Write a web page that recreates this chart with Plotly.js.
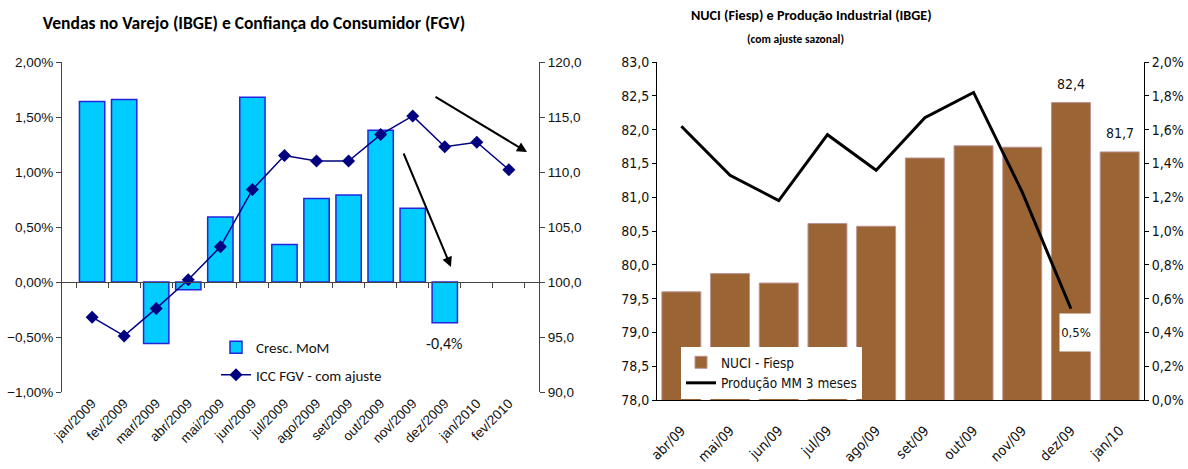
<!DOCTYPE html>
<html>
<head>
<meta charset="utf-8">
<script src="https://cdn.plot.ly/plotly-3.0.1.min.js"></script>
<style>html,body{margin:0;padding:0;background:#fff;}#chart{width:1188px;height:469px;}</style>
</head>
<body>
<div id="chart"></div>
<script>
// ---- Data ----
const leftCats = ['jan/2009','fev/2009','mar/2009','abr/2009','mai/2009','jun/2009','jul/2009','ago/2009','set/2009','out/2009','nov/2009','dez/2009','jan/2010','fev/2010'];
const crescMoM = [1.64, 1.66, -0.56, -0.07, 0.59, 1.68, 0.34, 0.76, 0.79, 1.38, 0.67, -0.37, null, null];
const iccFGV = [96.8, 95.1, 97.6, 100.2, 103.2, 108.4, 111.5, 111.0, 111.0, 113.4, 115.1, 112.3, 112.7, 110.2];

const rightCats = ['abr/09','mai/09','jun/09','jul/09','ago/09','set/09','out/09','nov/09','dez/09','jan/10'];
const nuci = [79.6, 79.87, 79.73, 80.61, 80.57, 81.58, 81.76, 81.74, 82.4, 81.67];
const prodMM3 = [1.62, 1.33, 1.18, 1.57, 1.36, 1.67, 1.82, 1.23, 0.54, null];

const calFont = 'Carlito, Calibri, "Liberation Sans", Arial, sans-serif';
const arialFont = '"Liberation Sans", Arial, sans-serif';
const narrowFont = '"Liberation Sans Narrow", "Arial Narrow", "DejaVu Sans Condensed", sans-serif';
const fmt1 = v => v.toFixed(1).replace('.', ',');

const W = 1188, H = 469;
const px = x => x / W, py = y => 1 - y / H;

const traces = [
  {type:'bar', x:leftCats, y:crescMoM, name:'Cresc. MoM', xaxis:'x', yaxis:'y', width:0.79,
   marker:{color:'#00CCFF', line:{color:'#2424E0', width:1.5}}, legend:'legend', legendgroup:'a', hoverinfo:'x+y'},
  {type:'scatter', mode:'lines+markers', x:leftCats, y:iccFGV, name:'ICC FGV - com ajuste', xaxis:'x', yaxis:'y2',
   line:{color:'#000080', width:1.5}, marker:{symbol:'diamond', size:10, color:'#000080'}, legend:'legend', legendgroup:'b'},
  {type:'scatter', mode:'lines', x:leftCats, y:leftCats.map(()=>null), xaxis:'x3', yaxis:'y', showlegend:false, hoverinfo:'skip'},
  {type:'bar', x:rightCats, y:nuci, name:'NUCI - Fiesp', xaxis:'x2', yaxis:'y3', width:0.8,
   marker:{color:'#9A6434', line:{color:'#BC9294', width:1}}, legend:'legend2'},
  {type:'scatter', mode:'lines', x:rightCats, y:prodMM3, name:'Produção MM 3 meses', xaxis:'x2', yaxis:'y4',
   line:{color:'#000000', width:3}, legend:'legend2'}
];

const axFontL = {family:arialFont, size:13.5, color:'#111'};
const axFontR = {family:narrowFont, size:14, color:'#111'};

const layout = {
  width:W, height:H,
  margin:{l:0, r:0, t:0, b:0},
  paper_bgcolor:'#fff', plot_bgcolor:'rgba(0,0,0,0)',
  separators:',.',
  showlegend:true,
  title:{text:'<b>Vendas no Varejo (IBGE) e Confiança do Consumidor (FGV)</b>', x:px(254), xanchor:'center', y:py(23), yanchor:'middle',
         font:{family:calFont, size:17.5, color:'#000'}},
  xaxis:{domain:[px(62), px(539)], anchor:'y', type:'category', showline:false, ticks:'', tickangle:-45,
         tickfont:axFontL, showgrid:false, zeroline:false},
  xaxis3:{overlaying:'x', matches:'x', anchor:'free', position:py(282), type:'category', showline:true, linecolor:'#444', linewidth:1,
          ticks:'outside', tickson:'boundaries', ticklen:5, tickcolor:'#444', showticklabels:false, showgrid:false, zeroline:false},
  yaxis:{domain:[py(392), py(62)], anchor:'x', range:[-1,2], dtick:0.5, tickformat:'.2f', ticksuffix:'%',
         showline:true, linecolor:'#444', ticks:'outside', ticklen:5, tickcolor:'#444', showgrid:false, zeroline:false, tickfont:axFontL},
  yaxis2:{overlaying:'y', side:'right', anchor:'x', range:[90,120], dtick:5, tickformat:'.1f',
          showline:true, linecolor:'#444', ticks:'outside', ticklen:5, tickcolor:'#444', showgrid:false, zeroline:false, tickfont:axFontL},
  xaxis2:{domain:[px(657), px(1144)], anchor:'y3', type:'category', showline:true, linecolor:'#000', ticks:'', tickangle:-45,
          ticklabelstandoff:16, tickfont:axFontR, showgrid:false, zeroline:false},
  yaxis3:{domain:[py(400), py(62)], anchor:'x2', range:[78,83], dtick:0.5, tickformat:'.1f',
          showline:true, linecolor:'#000', ticks:'outside', ticklen:4, tickcolor:'#000', showgrid:false, zeroline:false, tickfont:axFontR},
  yaxis4:{overlaying:'y3', side:'right', anchor:'x2', range:[0,2], dtick:0.2, tickformat:'.1f', ticksuffix:'%',
          showline:true, linecolor:'#000', ticks:'outside', ticklen:4, tickcolor:'#000', showgrid:false, zeroline:false, tickfont:axFontR},
  legend:{x:px(216), xanchor:'left', y:py(331), yanchor:'top', bgcolor:'rgba(0,0,0,0)', borderwidth:0,
          traceorder:'grouped', tracegroupgap:5, itemwidth:30, font:{family:calFont, size:15, color:'#111'}},
  legend2:{x:px(681), xanchor:'left', y:py(347), yanchor:'top', bgcolor:'#ffffff', borderwidth:0,
           traceorder:'normal', itemwidth:30, font:{family:narrowFont, size:13.5, color:'#111'}},
  annotations:[
    {xref:'paper', yref:'paper', x:px(811), y:py(15), text:'<b>NUCI (Fiesp) e Produção Industrial (IBGE)</b>', showarrow:false,
     xanchor:'center', yanchor:'middle', font:{family:calFont, size:14.2, color:'#000'}},
    {xref:'paper', yref:'paper', x:px(795), y:py(39), text:'<b>(com ajuste sazonal)</b>', showarrow:false,
     xanchor:'center', yanchor:'middle', font:{family:calFont, size:11.5, color:'#000'}},
    {xref:'x', yref:'y', x:leftCats[11], y:crescMoM[11], text:fmt1(crescMoM[11]) + '%', showarrow:false,
     yanchor:'top', yshift:-9, font:{family:calFont, size:16, color:'#111'}},
    {xref:'x2', yref:'y3', x:rightCats[8], y:nuci[8], text:fmt1(nuci[8]), showarrow:false,
     yanchor:'bottom', yshift:9, font:{family:narrowFont, size:14, color:'#111'}},
    {xref:'x2', yref:'y3', x:rightCats[9], y:nuci[9], text:fmt1(nuci[9]), showarrow:false,
     yanchor:'bottom', yshift:9, font:{family:narrowFont, size:14, color:'#111'}},
    {xref:'x2', yref:'y4', x:rightCats[8], y:prodMM3[8], text:fmt1(prodMM3[8]) + '%', showarrow:false,
     yanchor:'top', yshift:-4, xshift:5, width:30, height:35, bgcolor:'#ffffff', font:{family:narrowFont, size:13, color:'#111'}},
    {xref:'paper', yref:'paper', x:px(527), y:py(152), ax:434-527, ay:96-152, axref:'pixel', ayref:'pixel', text:'',
     showarrow:true, arrowhead:2, arrowsize:1, arrowwidth:2, arrowcolor:'#000'},
    {xref:'paper', yref:'paper', x:px(451), y:py(267), ax:403-451, ay:152-267, axref:'pixel', ayref:'pixel', text:'',
     showarrow:true, arrowhead:2, arrowsize:1, arrowwidth:2, arrowcolor:'#000'}
  ]
};

Plotly.newPlot('chart', traces, layout, {displayModeBar:false, staticPlot:true});
</script>
</body>
</html>
